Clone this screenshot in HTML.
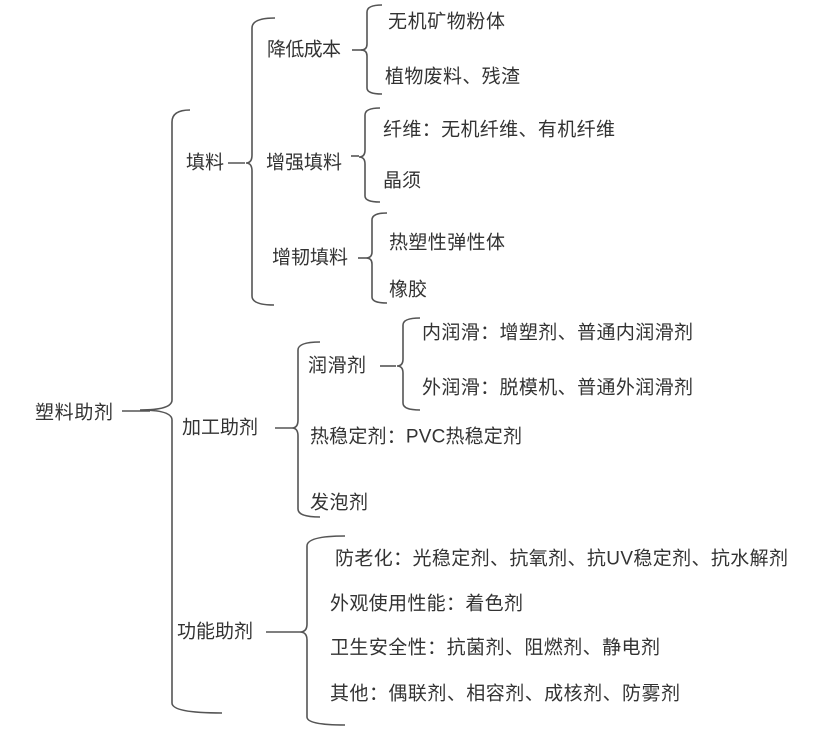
<!DOCTYPE html>
<html><head><meta charset="utf-8"><style>
html,body{margin:0;padding:0;background:#fff;}
svg{display:block}
text{font-family:"Liberation Sans","Noto Sans CJK SC",sans-serif;font-size:19px;fill:#333;dominant-baseline:central}
path{fill:none;stroke:#555;stroke-width:1.6}
</style></head><body>
<svg width="829" height="752" viewBox="0 0 829 752" xmlns="http://www.w3.org/2000/svg">
<path d="M190,110 Q172,110 172,122 L172,400 Q172,410 140,410 Q172,410 172,420 L172,703 Q172,713 222,713"/>
<line x1="122" y1="411" x2="150" y2="411" stroke="#555" stroke-width="1.6"/>
<text x="35" y="413" textLength="78">塑料助剂</text>

<text x="186" y="163" textLength="38">填料</text>
<path d="M228,163 L245,163"/>
<path d="M275,18 Q252,18 252,28 L252,155 Q252,163 246,163 Q252,163 252,171 L252,296 Q252,305 274,305"/>

<text x="267" y="50" textLength="74">降低成本</text>
<path d="M352,50 L362,50"/>
<path d="M382,5 Q367,5 367,12 L367,44 Q367,50 361,50 Q367,50 367,56 L367,88 Q367,94 382,94"/>
<text x="388" y="22" textLength="117">无机矿物粉体</text>
<text x="385" y="77" textLength="135">植物废料、残渣</text>

<text x="266" y="163" textLength="76">增强填料</text>
<path d="M351,156 L359,156"/>
<path d="M380,108 Q365,108 365,115 L365,150 Q365,157 359,157 Q365,157 365,164 L365,196 Q365,202 380,202"/>
<text x="383" y="130" textLength="232">纤维：无机纤维、有机纤维</text>
<text x="383" y="181" textLength="38">晶须</text>

<text x="272" y="258" textLength="76">增韧填料</text>
<path d="M358,258 L366,258"/>
<path d="M387,213 Q372,213 372,220 L372,252 Q372,258 366,258 Q372,258 372,264 L372,297 Q372,303 387,303"/>
<text x="389" y="243" textLength="116">热塑性弹性体</text>
<text x="389" y="290" textLength="38">橡胶</text>

<text x="182" y="428" textLength="76">加工助剂</text>
<path d="M275,428 L292,428"/>
<path d="M320,342 Q298,342 298,350 L298,420 Q298,428 292,428 Q298,428 298,436 L298,509 Q298,517 320,517"/>
<text x="308" y="366" textLength="58">润滑剂</text>
<path d="M380,366 L396,366"/>
<path d="M420,318 Q403,318 403,325 L403,359 Q403,366 397,366 Q403,366 403,373 L403,403 Q403,410 420,410"/>
<text x="422" y="333" textLength="271">内润滑：增塑剂、普通内润滑剂</text>
<text x="422" y="388" textLength="271">外润滑：脱模机、普通外润滑剂</text>
<text x="310" y="437" textLength="212">热稳定剂：PVC热稳定剂</text>
<text x="310" y="503" textLength="58">发泡剂</text>

<text x="177" y="632" textLength="76">功能助剂</text>
<path d="M266,632 L300,632"/>
<path d="M345,536 Q307,536 307,546 L307,624 Q307,632 300,632 Q307,632 307,640 L307,717 Q307,725 345,725"/>
<text x="335" y="559" textLength="453">防老化：光稳定剂、抗氧剂、抗UV稳定剂、抗水解剂</text>
<text x="330" y="604" textLength="193">外观使用性能：着色剂</text>
<text x="330" y="648" textLength="330">卫生安全性：抗菌剂、阻燃剂、静电剂</text>
<text x="330" y="694" textLength="350">其他：偶联剂、相容剂、成核剂、防雾剂</text>
</svg>
</body></html>
